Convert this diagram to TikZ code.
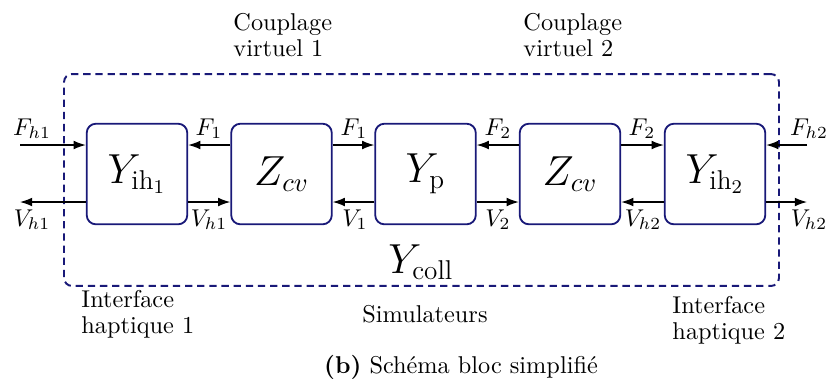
\documentclass[tikz,border=0pt]{standalone}
\usepackage{fontspec}
\usetikzlibrary{arrows.meta,calc}
\definecolor{navyline}{RGB}{25,25,120}
\begin{document}
\begin{tikzpicture}[x=0.4115pt,y=-0.4115pt,
  blk/.style={draw=navyline, line width=0.75pt, rounded corners=3.8pt,
    minimum width=41.4pt, minimum height=41.4pt, inner sep=0pt,
    font=\fontsize{16}{19}\selectfont},
  sig/.style={-{Latex[length=5pt,width=3.6pt]}, line width=0.5pt},
  lbl/.style={anchor=base, inner sep=0pt},
  txt/.style={anchor=north west, align=left, inner sep=0pt,
    font=\fontsize{10}{10.8}\selectfont},
  cont/.style={draw=navyline, line width=0.8pt, dash pattern=on 3pt off 2pt,
    rounded corners=3.3pt, minimum width=294.2pt, minimum height=87.2pt, inner sep=0pt}]
\useasboundingbox (0,0) rectangle (830,387);
% container
\node[cont] (coll) at (421.5,180) {};
% blocks
\node[blk] (b1) at (137,174) {$Y_{\mathrm{ih}_1}$};
\node[blk] (b2) at (281.5,174) {$Z_{cv}$};
\node[blk] (b3) at (425.5,174) {$Y_{\mathrm{p}}$};
\node[blk] (b4) at (570,174) {$Z_{cv}$};
\node[blk] (b5) at (715,174) {$Y_{\mathrm{ih}_2}$};
% rows
\coordinate (top) at (0,145);
\coordinate (bot) at (0,202);
\coordinate (tl) at (20,145);
\coordinate (tr) at (807,145);
\coordinate (bl) at (20,202);
\coordinate (br) at (807,202);
% top arrows (forces)
\draw[sig] (tl) -- (b1.west |- top);
\draw[sig] (b2.west |- top) -- (b1.east |- top);
\draw[sig] (b2.east |- top) -- (b3.west |- top);
\draw[sig] (b4.west |- top) -- (b3.east |- top);
\draw[sig] (b4.east |- top) -- (b5.west |- top);
\draw[sig] (tr) -- (b5.east |- top);
% bottom arrows (velocities)
\draw[sig] (b1.west |- bot) -- (bl);
\draw[sig] (b1.east |- bot) -- (b2.west |- bot);
\draw[sig] (b3.west |- bot) -- (b2.east |- bot);
\draw[sig] (b3.east |- bot) -- (b4.west |- bot);
\draw[sig] (b5.west |- bot) -- (b4.east |- bot);
\draw[sig] (b5.east |- bot) -- (br);
% signal labels
\node[lbl] (fh1) at (32,135) {$F_{h1}$};
\node[lbl] (f1a) at (209,135) {$F_1$};
\node[lbl] (f1b) at (354,135) {$F_1$};
\node[lbl] (f2a) at (498,135) {$F_2$};
\node[lbl] (f2b) at (642,135) {$F_2$};
\node[lbl] (fh2) at (809,135) {$F_{h2}$};
\node[lbl] (vh1a) at (32,226) {$V_{h1}$};
\node[lbl] (vh1b) at (209,226) {$V_{h1}$};
\node[lbl] (v1) at (355,226) {$V_1$};
\node[lbl] (v2) at (498,226) {$V_2$};
\node[lbl] (vh2a) at (643,226) {$V_{h2}$};
\node[lbl] (vh2b) at (809,226) {$V_{h2}$};
% container label
\node[lbl, font=\fontsize{16}{19}\selectfont] (ycoll) at (421,273) {$Y_{\mathrm{coll}}$};
% texts
\node[txt] (cv1) at (233,13) {Couplage\\virtuel 1};
\node[txt] (cv2) at (523,13) {Couplage\\virtuel 2};
\node[txt] (ih1) at (81,290) {Interface\\haptique 1};
\node[txt] (ih2) at (672,296) {Interface\\haptique 2};
\node[lbl] (sim) at (425,322) {Simulateurs};
\node[lbl] (cap) at (461,373) {\textbf{(b)} Schéma bloc simplifié};
\end{tikzpicture}
\end{document}
